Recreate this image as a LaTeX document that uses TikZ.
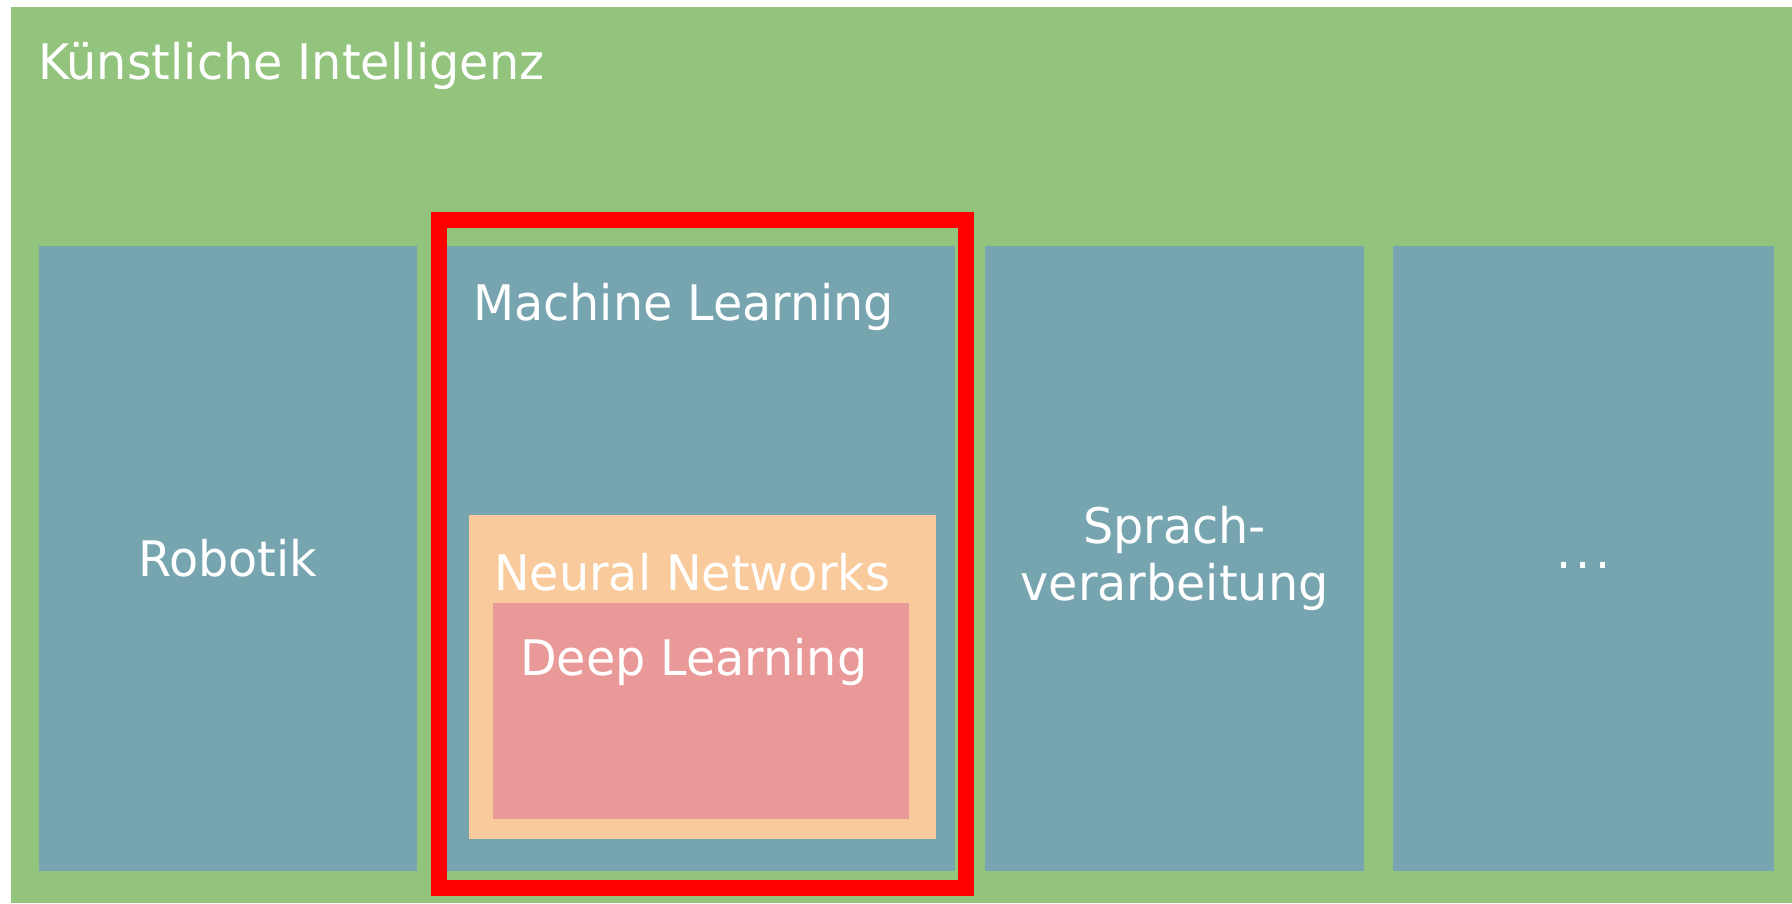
\documentclass[tikz,border=0pt]{standalone}
\usepackage{fontspec}
\setmainfont{DejaVu Sans Condensed}[FakeStretch=1.08]
\usetikzlibrary{positioning}

\definecolor{kigreen}{RGB}{147,196,125}
\definecolor{fieldblue}{RGB}{118,164,175}
\definecolor{nnpeach}{RGB}{249,203,156}
\definecolor{dlpink}{RGB}{234,153,153}

\newcommand{\boxfont}{\fontsize{49}{57}\selectfont}

\begin{document}
\begin{tikzpicture}[
  x=1pt, y=-1pt,
  area/.style={anchor=north west, inner sep=0pt, outer sep=0pt},
  field/.style={area, fill=fieldblue, minimum height=625pt, text=white, font=\boxfont, align=center},
  title/.style={anchor=base west, inner sep=0pt, text=white, font=\boxfont}
]

\useasboundingbox (0,0) rectangle (1792,903);
\fill[white] (0,0) rectangle (1792,903);

% outer field
\node[area, fill=kigreen, minimum width=1781pt, minimum height=896pt] (ki) at (11,7) {};
\node[title] (kititle) at (38,79) {Künstliche Intelligenz};

% sub fields
\node[field, minimum width=378pt] (robotik) at (39,246) {Robotik};
\node[field, minimum width=508pt] (ml) at (447,246) {};
\node[field, minimum width=379pt] (sprache) at (985,246) {Sprach-\\verarbeitung};
\node[field, minimum width=381pt] (mehr) at (1393,246) {\raisebox{-10pt}[0pt][0pt]{.\kern4pt.\kern4pt.}};

% nested boxes
\node[area, fill=nnpeach, minimum width=467pt, minimum height=324pt] (nn) at (469,515) {};
\node[area, fill=dlpink, minimum width=416pt, minimum height=216pt] (dl) at (493,603) {};

\node[title] (mltitle) at (473,320) {Machine Learning};
\node[title] (nntitle) at (494,590) {Neural Networks};
\node[title] (dltitle) at (520,675) {Deep Learning};

% highlight
\node[area, draw=red, line width=16pt, minimum width=527pt, minimum height=668pt] (focus) at (439,220) {};

\end{tikzpicture}
\end{document}
